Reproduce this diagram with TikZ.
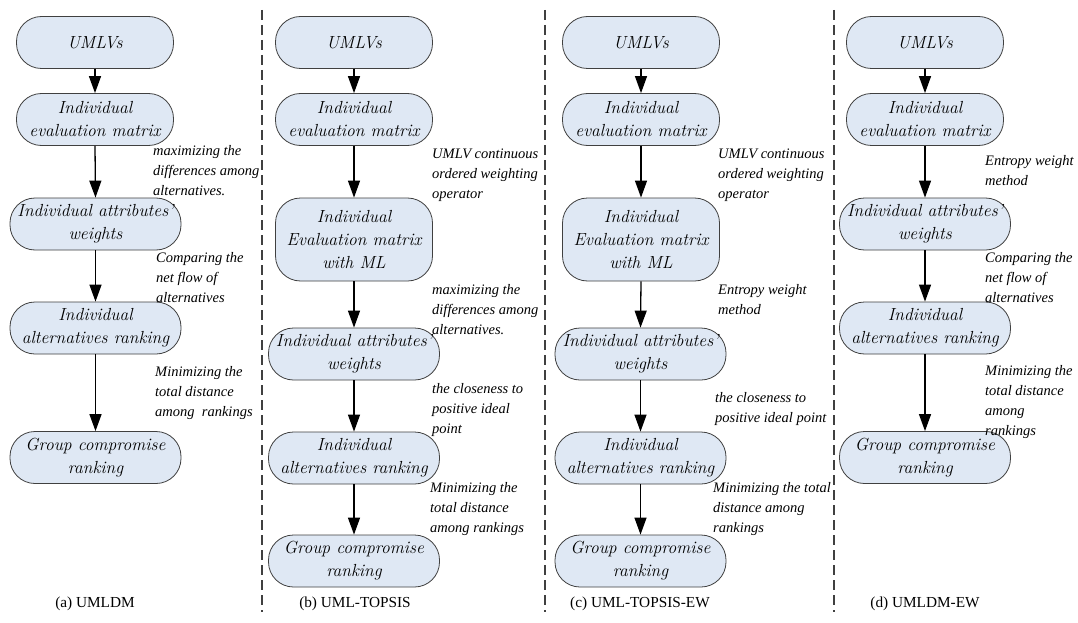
\documentclass[tikz,border=0pt]{standalone}
\usepackage{fontspec}
\newfontfamily\labfont{Liberation Serif}
\usetikzlibrary{arrows.meta}
\definecolor{boxfill}{RGB}{223,232,244}
\begin{document}
\begin{tikzpicture}[x=1pt,y=-1pt,
  box/.style={draw=black!75, line width=0.8pt, fill=boxfill, rounded corners=25pt,
    align=center, inner sep=0pt, minimum height=52pt,
    font=\fontsize{17.5}{23}\selectfont\itshape},
  narrow/.style={minimum width=157pt},
  wide/.style={minimum width=171pt},
  arr/.style={line width=1.3pt, -{Triangle[length=17pt,width=12pt]}},
  lbl/.style={font=\labfont\itshape\fontsize{14.5}{20}\selectfont, align=left, anchor=west, inner sep=0pt},
  captext/.style={font=\labfont\fontsize{15.3}{18}\selectfont, inner sep=0pt},
  sepline/.style={line width=1.3pt, black!75, dash pattern=on 10pt off 5pt}]
\fill[white] (0,0) rectangle (1078,623);
\useasboundingbox (0,0) rectangle (1078,623);

% separators
\foreach \x/\n in {262/s1,545/s2,834/s3}{
  \coordinate (\n t) at (\x,10);
  \coordinate (\n b) at (\x,612);
  \draw[sepline] (\n t) -- (\n b);
}

% ---------- (a) ----------
\node[box,narrow] (a1) at (95,42.5) {UMLVs};
\node[box,narrow] (a2) at (95,119.5) {Individual\\evaluation matrix};
\node[box,wide] (a3) at (95.5,224) {Individual attributes'\\weights};
\node[box,wide] (a4) at (95.5,328) {Individual\\alternatives ranking};
\node[box,wide] (a5) at (95.5,457.5) {Group compromise\\ranking};
\draw[arr] (a1.south) -- (a2.north);
\draw[arr] (a2.south) -- (a3.north);
\draw[arr] (a3.south) -- (a4.north);
\draw[arr] (a4.south) -- (a5.north);
\node[lbl] (la1) at (153,171) {maximizing the\\differences among\\alternatives.};
\node[lbl] (la2) at (156,277.5) {Comparing the\\net flow of\\alternatives};
\node[lbl] (la3) at (155,393.5) {Minimizing the\\total distance\\among\ \ rankings};
\node[captext] (ca) at (95,604) {(a) UMLDM};

% ---------- (b) ----------
\node[box,narrow] (b1) at (354,42.5) {UMLVs};
\node[box,narrow] (b2) at (354,119.5) {Individual\\evaluation matrix};
\node[box,narrow,minimum height=83pt] (b3) at (354,239.5) {Individual\\Evaluation matrix\\with ML};
\node[box,wide] (b4) at (354,354) {Individual attributes'\\weights};
\node[box,wide] (b5) at (354,458) {Individual\\alternatives ranking};
\node[box,wide] (b6) at (354,561) {Group compromise\\ranking};
\draw[arr] (b1.south) -- (b2.north);
\draw[arr] (b2.south) -- (b3.north);
\draw[arr] (b3.south) -- (b4.north);
\draw[arr] (b4.south) -- (b5.north);
\draw[arr] (b5.south) -- (b6.north);
\node[lbl] (lb1) at (432,175.5) {UMLV continuous\\ordered weighting\\operator};
\node[lbl] (lb2) at (432,310) {maximizing the\\differences among\\alternatives.};
\node[lbl] (lb3) at (432,410) {the closeness to\\positive ideal\\point};
\node[lbl] (lb4) at (430,509) {Minimizing the\\total distance\\among rankings};
\node[captext] (cb) at (355,604) {(b) UML-TOPSIS};

% ---------- (c) ----------
\node[box,narrow] (c1) at (641,42.5) {UMLVs};
\node[box,narrow] (c2) at (641,119.5) {Individual\\evaluation matrix};
\node[box,narrow,minimum height=83pt] (c3) at (641,239.5) {Individual\\Evaluation matrix\\with ML};
\node[box,wide] (c4) at (640.5,354) {Individual attributes'\\weights};
\node[box,wide] (c5) at (640.5,458) {Individual\\alternatives ranking};
\node[box,wide] (c6) at (640.5,561) {Group compromise\\ranking};
\draw[arr] (c1.south) -- (c2.north);
\draw[arr] (c2.south) -- (c3.north);
\draw[arr] (c3.south) -- (c4.north);
\draw[arr] (c4.south) -- (c5.north);
\draw[arr] (c5.south) -- (c6.north);
\node[lbl] (lc1) at (718,175.5) {UMLV continuous\\ordered weighting\\operator};
\node[lbl] (lc2) at (718,300) {Entropy weight\\method};
\node[lbl] (lc3) at (715,409.5) {the closeness to\\positive ideal point};
\node[lbl] (lc4) at (713,509) {Minimizing the total\\distance among\\rankings};
\node[captext] (cc) at (640,604) {(c) UML-TOPSIS-EW};

% ---------- (d) ----------
\node[box,narrow] (d1) at (925,42.5) {UMLVs};
\node[box,narrow] (d2) at (925,119.5) {Individual\\evaluation matrix};
\node[box,wide] (d3) at (925,224) {Individual attributes'\\weights};
\node[box,wide] (d4) at (925,328) {Individual\\alternatives ranking};
\node[box,wide] (d5) at (925,457.5) {Group compromise\\ranking};
\draw[arr] (d1.south) -- (d2.north);
\draw[arr] (d2.south) -- (d3.north);
\draw[arr] (d3.south) -- (d4.north);
\draw[arr] (d4.south) -- (d5.north);
\node[lbl] (ld1) at (985,170.5) {Entropy weight\\method};
\node[lbl] (ld2) at (985,278) {Comparing the\\net flow of\\alternatives};
\node[lbl] (ld3) at (985,402) {Minimizing the\\total distance\\among\\rankings};
\node[captext] (cd) at (925,604) {(d) UMLDM-EW};
\end{tikzpicture}
\end{document}
